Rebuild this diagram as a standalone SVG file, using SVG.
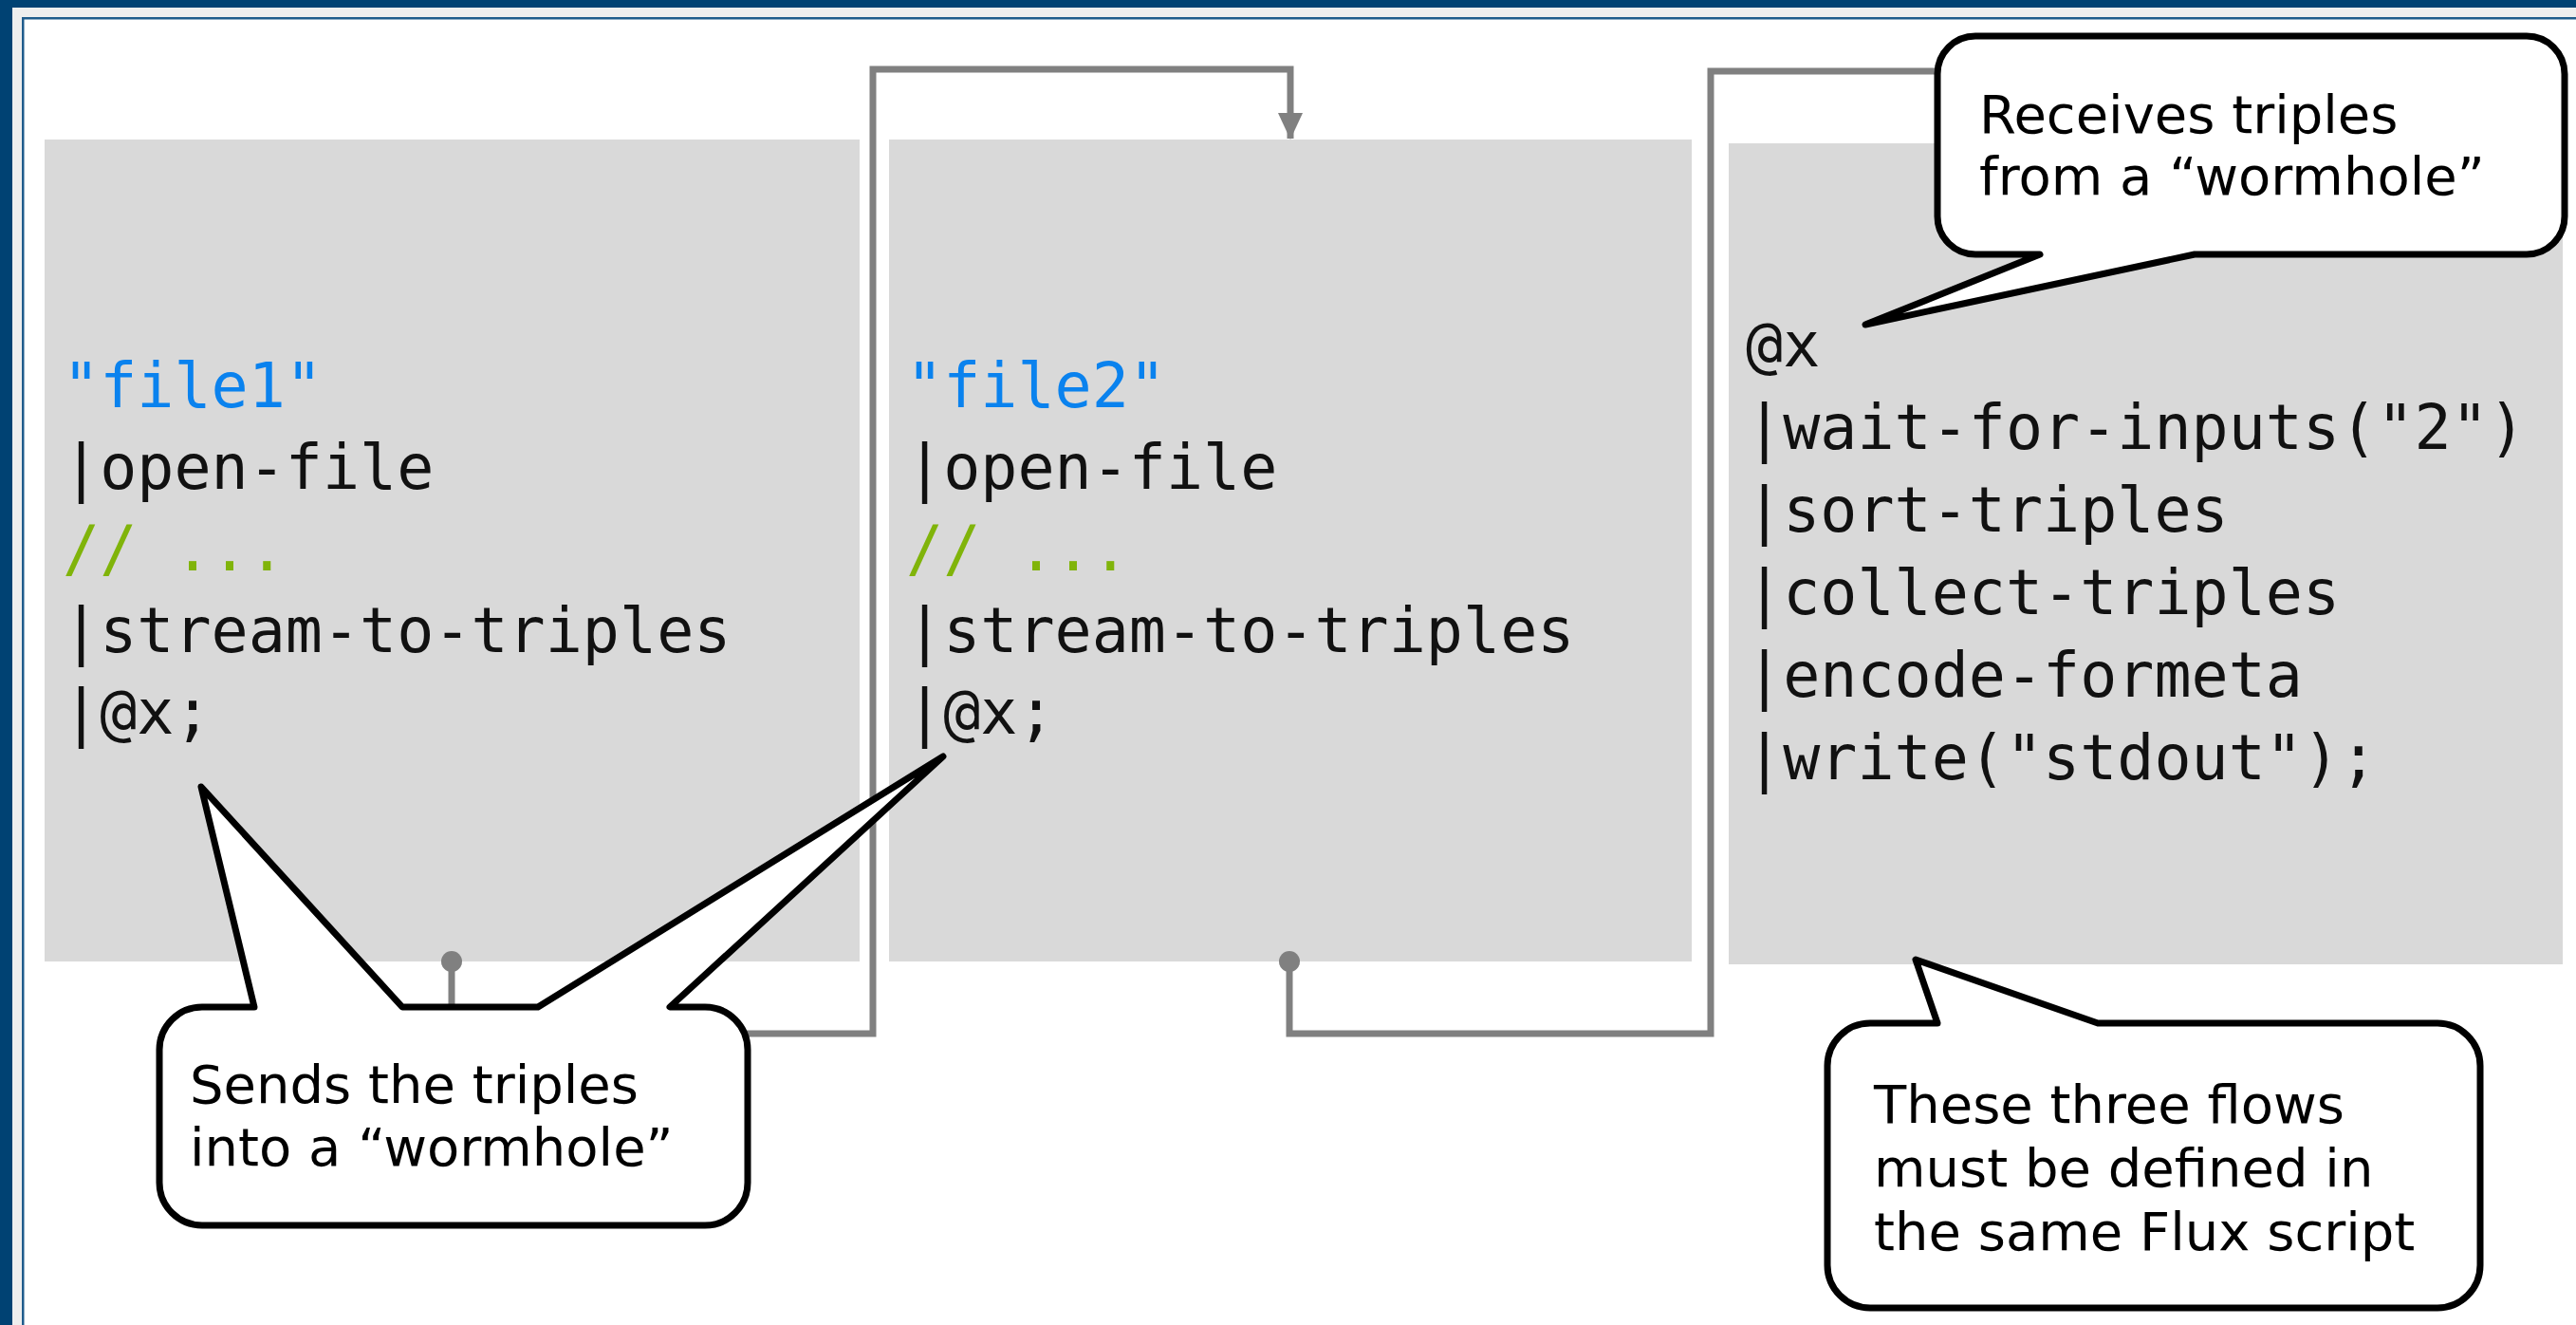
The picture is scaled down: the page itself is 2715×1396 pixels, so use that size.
<svg xmlns="http://www.w3.org/2000/svg" width="2715" height="1396" viewBox="0 0 2715 1396">
<defs>
<style>
.box{fill:#d9d9d9}
.code{font-family:"DejaVu Sans Mono",monospace;font-size:65px;fill:#111}
.str{fill:#0a82ee}
.cmt{fill:#80b40a}
.conn{fill:none;stroke:#808080;stroke-width:7;stroke-linejoin:miter}
.dot{fill:#808080}
.callout{fill:#fff;stroke:#000;stroke-width:7;stroke-linejoin:round}
.ct{font-family:"DejaVu Sans",sans-serif;font-size:56px;fill:#000}
</style>
<marker id="arr" markerUnits="userSpaceOnUse" markerWidth="28" markerHeight="26" refX="27" refY="13" orient="auto" viewBox="0 0 28 26">
<path d="M0,0 L28,13 L0,26 Z" fill="#808080"/>
</marker>
</defs>
<rect x="0" y="0" width="2715" height="1396" fill="#fff"/>
<g id="frame">
<rect x="0" y="0" width="2715" height="8" fill="#004273"/>
<rect x="0" y="8" width="2715" height="10" fill="#eeeeee"/>
<rect x="0" y="18" width="2715" height="2.5" fill="#1f5c8c"/>
<rect x="0" y="0" width="13" height="1396" fill="#004273"/>
<rect x="13" y="8" width="10" height="1388" fill="#eeeeee"/>
<rect x="23" y="18" width="2.5" height="1378" fill="#1f5c8c"/>
</g>
<g id="flow1">
<rect class="box" x="47" y="147" width="859" height="866"/>
<text class="code" x="66" y="429"><tspan class="str">"file1"</tspan></text>
<text class="code" x="66" y="515">|open-file</text>
<text class="code cmt" x="66" y="601">// ...</text>
<text class="code" x="66" y="687">|stream-to-triples</text>
<text class="code" x="66" y="773">|@x;</text>
</g>
<g id="flow2">
<rect class="box" x="937" y="147" width="846" height="866"/>
<text class="code" x="955" y="429"><tspan class="str">"file2"</tspan></text>
<text class="code" x="955" y="515">|open-file</text>
<text class="code cmt" x="955" y="601">// ...</text>
<text class="code" x="955" y="687">|stream-to-triples</text>
<text class="code" x="955" y="773">|@x;</text>
</g>
<g id="flow3">
<rect class="box" x="1822" y="151" width="879" height="865"/>
<text class="code" x="1840" y="386">@x</text>
<text class="code" x="1840" y="473">|wait-for-inputs("2")</text>
<text class="code" x="1840" y="560">|sort-triples</text>
<text class="code" x="1840" y="647">|collect-triples</text>
<text class="code" x="1840" y="734">|encode-formeta</text>
<text class="code" x="1840" y="821">|write("stdout");</text>
</g>
<g id="connectors">
<path class="conn" d="M476,1013 V1089 H920 V73 H1360 V146" marker-end="url(#arr)"/>
<circle class="dot" cx="476" cy="1013" r="11"/>
<path class="conn" d="M1359,1013 V1089 H1803 V75 H2200 V150" marker-end="url(#arr)"/>
<circle class="dot" cx="1359" cy="1013" r="11"/>
</g>
<g id="callout-sends">
<path class="callout" d="M213,1061 L268,1061 L212,829 L424,1061 L567,1061 L994,797 L706,1061 L743,1061 A45,45 0 0 1 788,1106 L788,1246 A45,45 0 0 1 743,1291 L213,1291 A45,45 0 0 1 168,1246 L168,1106 A45,45 0 0 1 213,1061 Z"/>
<text class="ct" x="200" y="1162">Sends the triples</text>
<text class="ct" x="200" y="1228">into a “wormhole”</text>
</g>
<g id="callout-receives">
<path class="callout" d="M2082,38 H2663 A40,40 0 0 1 2703,78 V228 A40,40 0 0 1 2663,268 H2313 L1966,342 L2150,268 H2082 A40,40 0 0 1 2042,228 V78 A40,40 0 0 1 2082,38 Z"/>
<text class="ct" x="2086" y="140">Receives triples</text>
<text class="ct" x="2086" y="205">from a “wormhole”</text>
</g>
<g id="callout-flows">
<path class="callout" d="M1971,1078 H2042 L2019,1011 L2211,1078 H2569 A45,45 0 0 1 2614,1123 V1333 A45,45 0 0 1 2569,1378 H1971 A45,45 0 0 1 1926,1333 V1123 A45,45 0 0 1 1971,1078 Z"/>
<text class="ct" x="1975" y="1183">These three flows</text>
<text class="ct" x="1975" y="1250">must be defined in</text>
<text class="ct" x="1975" y="1317">the same Flux script</text>
</g>
</svg>
